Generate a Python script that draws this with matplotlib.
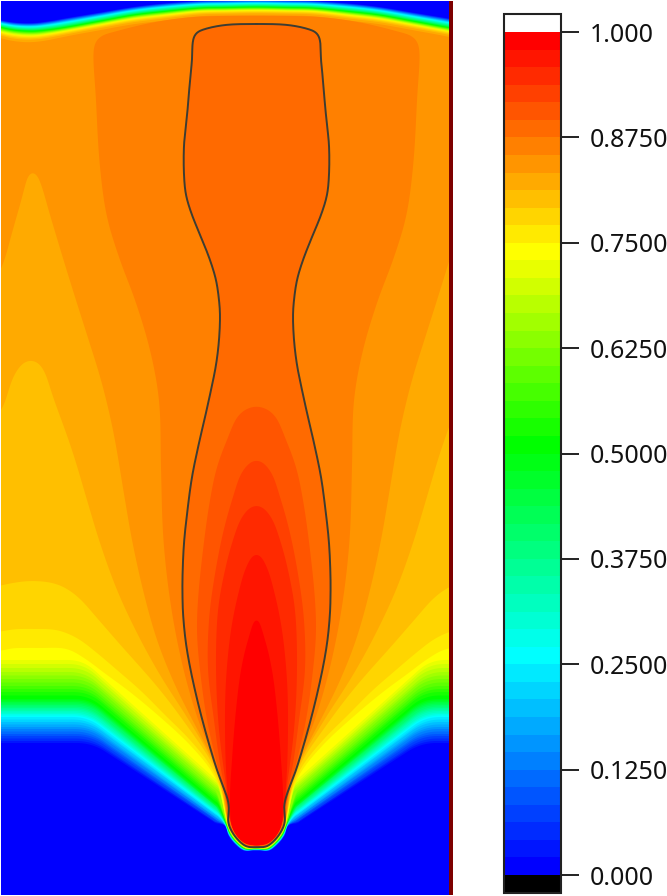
import numpy as np
import matplotlib
matplotlib.use("Agg")
import matplotlib.pyplot as plt
from matplotlib.colors import LinearSegmentedColormap, ListedColormap, BoundaryNorm
from matplotlib.cm import ScalarMappable
from matplotlib.patches import Rectangle

# ---- colour scale -------------------------------------------------------
n_bands = 48
tick_values = [0.0, 0.125, 0.25, 0.375, 0.5, 0.625, 0.75, 0.875, 1.0]
tick_labels = ["0.000", "0.1250", "0.2500", "0.3750", "0.5000", "0.6250", "0.7500", "0.8750", "1.000"]
rainbow_nodes = [0, 12, 24, 35, 47]
rainbow_colors = ["#0000ff", "#00ffff", "#00ff00", "#ffff00", "#ff0000"]

# ---- field, read as iso-lines (left half; the field is mirrored about the axis) ----
axis_x = 256.5

# upper free surface: green line and the thickness of the layer above/below it
arc_x = [256.5, 225, 200, 163, 133, 100, 67, 50, 33, 15, 0, -10]
arc_green_y = [7, 7.5, 8, 11.5, 15, 21, 27, 29.5, 31, 30, 27, 24]
arc_up = [7, 7, 7, 8, 8, 8.5, 9, 8.5, 8, 7.5, 7, 7]
arc_down = [3.5, 3.5, 3.5, 4, 4, 4, 4, 4.5, 5, 5, 5, 5]
top_frac = [-1.0, -.96, -.92, -.88, -.84, -.80, -.76, -.72, -.68, -.64, -.60, -.55,
            -.50, -.45, -.40, -.35, -.30, -.25, -.20, -.16, -.12, -.08, -.04, 0.0,
            .08, .16, .24, .32, .40, .48, .56, .64, .72, .85, 1.0,
            1.0, 1.25, 1.5, 1.8, 2.3]

# lower front, bands 1..35: plateau level, knee position and end of the slope
front_plateau_y = [743, 741, 738.5, 736, 734, 731.5, 729, 727, 724.5, 722, 719.5, 717,
                   715.5, 714, 712.5, 711, 709.5, 708, 706.5, 705, 703.5, 702, 700.5, 699,
                   695.5, 692, 689, 686, 682.5, 679, 675.5, 672, 668, 664, 660]
front_knee_x = [92, 92, 91, 91, 91, 90, 90, 90, 89, 89, 88, 88,
                88, 88, 88, 89, 89, 89, 89, 90, 90, 90, 90, 90,
                89, 89, 88, 88, 87, 87, 86, 85, 85, 84, 83]
front_end_x = [220, 220, 220, 221, 221, 221, 222, 222, 222, 223, 223, 223,
               223, 223, 223, 222, 222, 222, 222, 222, 221, 221, 221, 221,
               221, 221, 221, 221, 221, 221, 222, 222, 222, 222, 222]
front_end_y = [826, 825, 825, 824, 823, 823, 822, 822, 821, 820, 820, 819,
               818, 817, 816, 815, 814, 813, 812, 811, 810, 810, 809, 808,
               806, 804, 802, 800, 798, 796, 794, 792, 790, 788, 785]
front_halo = [3.5, 3.4, 3.3, 3.2, 3.1, 3.0, 3.0, 2.9, 2.8, 2.7, 2.7, 2.6,
              2.5, 2.4, 2.4, 2.3, 2.2, 2.2, 2.1, 2.0, 2.0, 1.9, 1.8, 1.8,
              1.7, 1.6, 1.5, 1.5, 1.4, 1.3, 1.2, 1.1, 1.0, 0.9, 0.8]

tip_x = [228, 232, 238, 247, 256.5]
tip_y = [822, 832, 840, 847, 847]

band36 = [(-10, 648), (15, 648), (40, 648), (67, 649), (87, 660), (103, 672), (130, 692), (160, 717), (190, 745), (212, 772), (222, 795)]
band37 = [(-10, 629), (15, 629), (38, 629), (57, 630), (77, 638), (97, 653), (117, 670), (140, 690), (165, 715), (190, 740), (212, 768), (222, 792)]
band38 = [(-10, 586), (2, 585), (27, 581), (57, 584), (77, 596), (97, 618), (117, 641), (160, 690), (190, 730), (212, 763), (222, 790)]
band39 = [(-10, 420), (2, 410), (10, 385), (20, 365), (32, 358), (42, 366), (53, 397), (72, 450), (87, 500), (100, 543),
          (117, 590), (137, 633), (160, 675), (190, 722), (212, 760), (222, 788)]
band40 = [(-10, 285), (2, 267), (10, 240), (20, 205), (32, 168), (38, 176), (50, 215), (62, 255), (75, 297), (88, 338),
          (101, 380), (113, 430), (125, 500), (132, 540), (143, 590), (157, 640), (175, 685), (195, 725), (213, 760), (223, 788)]
band41 = [(256.5, 16), (193, 17), (150, 23), (110, 33), (98, 37), (94, 45), (96, 100), (100, 167), (107, 217), (120, 260),
          (135, 300), (150, 350), (159, 400), (161, 467), (163, 533), (168, 585), (176, 635), (187, 683), (200, 725),
          (214, 758), (224, 788)]
bottle = [(256.5, 24), (225, 25), (205, 29), (196, 33), (193, 40), (192, 60), (190, 80), (188, 105), (186, 125), (184, 145),
          (184, 175), (186, 195), (192, 215), (201, 237), (210, 260), (216, 280), (219, 300), (220, 315), (219, 340),
          (216, 365), (211, 390), (205.5, 415), (199, 443), (192, 477), (187.5, 510), (184, 543), (182.5, 577), (182.5, 597),
          (183, 613), (185.5, 640), (190, 667), (198, 703), (207, 737), (217, 770), (227, 797), (229, 807), (228, 822),
          (232, 832), (238, 840), (247, 847), (256.5, 847)]
band43 = [(256.5, 406), (240, 413), (227, 440), (217, 467), (210, 500), (203, 550), (198, 600), (197, 633), (200, 670),
          (207, 720), (216, 760), (226, 800)]
band44 = [(256.5, 459), (243, 470), (233, 497), (223, 533), (214, 580), (209, 620), (208, 670), (214, 720), (221, 770), (228, 800)]
band45 = [(256.5, 504), (243, 515), (233, 540), (225, 570), (218, 610), (216, 670), (219, 730), (226, 785)]
band46 = [(256.5, 552), (247, 565), (238, 595), (231, 630), (226, 680), (225, 730), (227, 785)]
band47 = [(256.5, 618), (248, 640), (241, 670), (236, 710), (232, 760), (230, 800)]
inner_tip = [(233, 830), (247, 845), (256.5, 845)]


# ---- helpers ------------------------------------------------------------
def closed_spline(pts, sub=8):
    """Centripetal Catmull-Rom through a closed list of outline points."""
    P = np.asarray(pts, dtype=float)
    keep = np.hypot(*(P - np.roll(P, 1, axis=0)).T) > 1e-6
    P = P[keep]
    p0, p1, p2, p3 = np.roll(P, 1, axis=0), P, np.roll(P, -1, axis=0), np.roll(P, -2, axis=0)
    d = lambda a, b: np.maximum(np.hypot(*(b - a).T), 1e-6) ** 0.5
    t0 = np.zeros(len(P))
    t1 = t0 + d(p0, p1)
    t2 = t1 + d(p1, p2)
    t3 = t2 + d(p2, p3)
    out = []
    for f in np.arange(sub) / sub:
        t = (t1 + f * (t2 - t1))[:, None]
        T0, T1, T2, T3 = t0[:, None], t1[:, None], t2[:, None], t3[:, None]
        A1 = (T1 - t) / (T1 - T0) * p0 + (t - T0) / (T1 - T0) * p1
        A2 = (T2 - t) / (T2 - T1) * p1 + (t - T1) / (T2 - T1) * p2
        A3 = (T3 - t) / (T3 - T2) * p2 + (t - T2) / (T3 - T2) * p3
        B1 = (T2 - t) / (T2 - T0) * A1 + (t - T0) / (T2 - T0) * A2
        B2 = (T3 - t) / (T3 - T1) * A2 + (t - T1) / (T3 - T1) * A3
        out.append((T2 - t) / (T2 - T1) * B1 + (t - T1) / (T2 - T1) * B2)
    return np.stack(out, axis=1).reshape(-1, 2)


def rounded_front(pts, w):
    pts = np.asarray(pts, dtype=float)
    s = np.r_[0, np.cumsum(np.hypot(*np.diff(pts, axis=0).T))]
    t = np.arange(0, s[-1] + 1, 1.0)
    d = np.c_[np.interp(t, s, pts[:, 0]), np.interp(t, s, pts[:, 1])]
    k = np.ones(w) / w
    pad = w // 2
    xy = [np.convolve(np.r_[np.full(pad, d[0, i]), d[:, i], np.full(pad, d[-1, i])], k, mode="valid") for i in (0, 1)]
    return [tuple(p) for p in np.c_[xy[0], xy[1]][::6]]


def region(half, w=1):
    half = np.asarray(half, dtype=float)
    mirrored = np.c_[2 * axis_x - half[::-1, 0], half[::-1, 1]]
    full = np.vstack([half, mirrored[1:-1]]) if half[-1, 0] == axis_x else np.vstack([half, mirrored])
    c = closed_spline(full)
    if w > 1:
        loop = np.vstack([c, c[:1]])
        s = np.r_[0, np.cumsum(np.hypot(*np.diff(loop, axis=0).T))]
        t = np.arange(0, s[-1], 1.0)
        x = np.interp(t, s, loop[:, 0])
        y = np.interp(t, s, loop[:, 1])
        k = np.ones(w) / w
        pad = w // 2
        x = np.convolve(np.r_[x[-pad:], x, x[:pad]], k, mode="valid")
        y = np.convolve(np.r_[y[-pad:], y, y[:pad]], k, mode="valid")
        return x, y
    return c[:, 0], c[:, 1]


def top_chain(frac):
    a = np.array(arc_green_y, float)
    off = np.array(arc_up if frac < 0 else arc_down, float)
    return list(zip(arc_x, a + frac * off))


def tip_chain(h):
    return [(x - h, y + h) for x, y in zip(tip_x, tip_y)]


# ---- figure -------------------------------------------------------------
fig = plt.figure(figsize=(6.67, 8.96), dpi=100, facecolor="white")
ax = fig.add_axes([0, 0, 454 / 667, 1])
ax.set_xlim(0, 454)
ax.set_ylim(896, 0)
ax.axis("off")

ramp = LinearSegmentedColormap.from_list(
    "scale", [(n / (n_bands - 1), c) for n, c in zip(rainbow_nodes, rainbow_colors)], N=n_bands)
cmap = ListedColormap([ramp(i) for i in range(n_bands)])
cmap.set_over("white")
cmap.set_under("black")
norm = BoundaryNorm(np.linspace(0, 1, n_bands + 1), n_bands)

base = Rectangle((1, 1.5), 448, 893.5, facecolor=cmap(0), edgecolor="none", zorder=1)
ax.add_patch(base)


def paint(b, half, w=1):
    x, y = region(half, w)
    poly, = ax.fill(x, y, color=cmap(b), lw=0, zorder=2 + b * 0.01)
    poly.set_clip_path(base)


for i in range(35):
    b = i + 1
    lower = rounded_front([(-10, front_plateau_y[i]), (front_knee_x[i], front_plateau_y[i]),
                           (front_end_x[i], front_end_y[i])], 31)
    paint(b, top_chain(top_frac[i]) + lower + tip_chain(front_halo[i]))

paint(36, top_chain(top_frac[35]) + band36 + tip_chain(0.6), 13)
paint(37, top_chain(top_frac[36]) + band37 + tip_chain(0.5), 17)
paint(38, top_chain(top_frac[37]) + band38 + tip_chain(0.4), 21)
paint(39, top_chain(top_frac[38]) + band39 + tip_chain(0.3), 27)
paint(40, top_chain(top_frac[39]) + band40 + tip_chain(0.2), 27)
paint(41, band41 + tip_chain(0.1), 21)
paint(42, bottle, 11)
paint(43, band43 + inner_tip, 21)
paint(44, band44 + inner_tip, 21)
paint(45, band45 + inner_tip, 21)
paint(46, band46 + inner_tip, 21)
paint(47, band47 + inner_tip, 15)

# outline of the bottle shape
bx, by = region(bottle, 11)
ax.plot(np.r_[bx, bx[0]], np.r_[by, by[0]], color="#3d3d33", lw=1.4, zorder=4, solid_joinstyle="round")

# right-hand wall
ax.add_patch(Rectangle((449, 1.5), 4.3, 893.5, facecolor="#7d0000", edgecolor="none", zorder=5))

# ---- colour bar ---------------------------------------------------------
cax = fig.add_axes([504 / 667, 1 - 893 / 896, 57 / 667, 879 / 896])
cb = fig.colorbar(ScalarMappable(norm=norm, cmap=cmap), cax=cax, extend="both", extendrect=True,
                  extendfrac=18 / 843, spacing="proportional", ticks=tick_values, drawedges=False)
cb.ax.minorticks_off()
cb.set_ticks(tick_values)
cb.set_ticklabels(tick_labels)
cb.outline.set_edgecolor("#222222")
cb.outline.set_linewidth(1.5)
cb.ax.tick_params(axis="y", length=13, width=1.4, color="#222222", pad=8, labelsize=18, labelcolor="#111111")
for t in cb.ax.get_yticklabels():
    t.set_family(["Noto Sans", "DejaVu Sans"])

fig.savefig("out.png", dpi=100, facecolor="white")
